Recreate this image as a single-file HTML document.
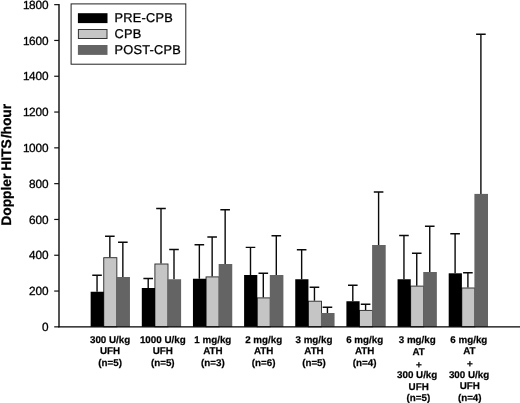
<!DOCTYPE html>
<html><head><meta charset="utf-8"><title>Doppler HITS/hour</title>
<style>
html,body{margin:0;padding:0;background:#fff;}
svg{display:block;}
text{font-family:"Liberation Sans",Arial,Helvetica,sans-serif;fill:#000;text-rendering:geometricPrecision;}
.t{font-size:11.8px;text-anchor:end;stroke:#000;stroke-width:0.3px;}
.l{font-size:9.8px;font-weight:bold;text-anchor:middle;stroke:#111;stroke-width:0.25px;}
.lg{font-size:12.8px;letter-spacing:0.2px;stroke:#000;stroke-width:0.3px;}
.yt{font-size:13.8px;font-weight:bold;text-anchor:middle;stroke:#000;stroke-width:0.3px;}
</style></head><body>
<svg width="520" height="403" viewBox="0 0 520 403">
<rect width="520" height="403" fill="#fff"/>

<path d="M97.05 291.75V275.30M92.25 275.30H101.85" stroke="#0a0a0a" stroke-width="1.4" fill="none"/>
<path d="M109.85 257.30V236.30M105.05 236.30H114.65" stroke="#0a0a0a" stroke-width="1.4" fill="none"/>
<path d="M122.85 277.00V242.30M118.05 242.30H127.65" stroke="#0a0a0a" stroke-width="1.4" fill="none"/>
<rect x="103.75" y="257.70" width="13.1" height="69.10" fill="#c5c5c5" stroke="#262626" stroke-width="0.9"/>
<rect x="90.65" y="291.75" width="13.2" height="35.05" fill="#000"/>
<rect x="116.35" y="277.00" width="13.6" height="49.80" fill="#646464"/>
<path d="M148.20 288.00V278.55M143.40 278.55H153.00" stroke="#0a0a0a" stroke-width="1.4" fill="none"/>
<path d="M161.00 263.60V208.55M156.20 208.55H165.80" stroke="#0a0a0a" stroke-width="1.4" fill="none"/>
<path d="M174.00 279.25V249.55M169.20 249.55H178.80" stroke="#0a0a0a" stroke-width="1.4" fill="none"/>
<rect x="154.90" y="264.00" width="13.1" height="62.80" fill="#c5c5c5" stroke="#262626" stroke-width="0.9"/>
<rect x="141.80" y="288.00" width="13.2" height="38.80" fill="#000"/>
<rect x="167.50" y="279.25" width="13.6" height="47.55" fill="#646464"/>
<path d="M199.35 278.75V244.80M194.55 244.80H204.15" stroke="#0a0a0a" stroke-width="1.4" fill="none"/>
<path d="M212.15 276.50V237.05M207.35 237.05H216.95" stroke="#0a0a0a" stroke-width="1.4" fill="none"/>
<path d="M225.15 264.00V209.80M220.35 209.80H229.95" stroke="#0a0a0a" stroke-width="1.4" fill="none"/>
<rect x="206.05" y="276.90" width="13.1" height="49.90" fill="#c5c5c5" stroke="#262626" stroke-width="0.9"/>
<rect x="192.95" y="278.75" width="13.2" height="48.05" fill="#000"/>
<rect x="218.65" y="264.00" width="13.6" height="62.80" fill="#646464"/>
<path d="M250.50 275.00V247.40M245.70 247.40H255.30" stroke="#0a0a0a" stroke-width="1.4" fill="none"/>
<path d="M263.30 297.50V273.30M258.50 273.30H268.10" stroke="#0a0a0a" stroke-width="1.4" fill="none"/>
<path d="M276.30 275.00V235.80M271.50 235.80H281.10" stroke="#0a0a0a" stroke-width="1.4" fill="none"/>
<rect x="257.20" y="297.90" width="13.1" height="28.90" fill="#c5c5c5" stroke="#262626" stroke-width="0.9"/>
<rect x="244.10" y="275.00" width="13.2" height="51.80" fill="#000"/>
<rect x="269.80" y="275.00" width="13.6" height="51.80" fill="#646464"/>
<path d="M301.65 279.25V249.80M296.85 249.80H306.45" stroke="#0a0a0a" stroke-width="1.4" fill="none"/>
<path d="M314.45 300.80V287.30M309.65 287.30H319.25" stroke="#0a0a0a" stroke-width="1.4" fill="none"/>
<path d="M327.45 313.00V307.30M322.65 307.30H332.25" stroke="#0a0a0a" stroke-width="1.4" fill="none"/>
<rect x="308.35" y="301.20" width="13.1" height="25.60" fill="#c5c5c5" stroke="#262626" stroke-width="0.9"/>
<rect x="295.25" y="279.25" width="13.2" height="47.55" fill="#000"/>
<rect x="320.95" y="313.00" width="13.6" height="13.80" fill="#646464"/>
<path d="M352.80 301.25V285.30M348.00 285.30H357.60" stroke="#0a0a0a" stroke-width="1.4" fill="none"/>
<path d="M365.60 310.00V304.30M360.80 304.30H370.40" stroke="#0a0a0a" stroke-width="1.4" fill="none"/>
<path d="M378.60 245.00V192.05M373.80 192.05H383.40" stroke="#0a0a0a" stroke-width="1.4" fill="none"/>
<rect x="359.50" y="310.40" width="13.1" height="16.40" fill="#c5c5c5" stroke="#262626" stroke-width="0.9"/>
<rect x="346.40" y="301.25" width="13.2" height="25.55" fill="#000"/>
<rect x="372.10" y="245.00" width="13.6" height="81.80" fill="#646464"/>
<path d="M403.95 279.25V235.50M399.15 235.50H408.75" stroke="#0a0a0a" stroke-width="1.4" fill="none"/>
<path d="M416.75 285.70V253.30M411.95 253.30H421.55" stroke="#0a0a0a" stroke-width="1.4" fill="none"/>
<path d="M429.75 272.00V226.30M424.95 226.30H434.55" stroke="#0a0a0a" stroke-width="1.4" fill="none"/>
<rect x="410.65" y="286.10" width="13.1" height="40.70" fill="#c5c5c5" stroke="#262626" stroke-width="0.9"/>
<rect x="397.55" y="279.25" width="13.2" height="47.55" fill="#000"/>
<rect x="423.25" y="272.00" width="13.6" height="54.80" fill="#646464"/>
<path d="M455.10 273.30V233.70M450.30 233.70H459.90" stroke="#0a0a0a" stroke-width="1.4" fill="none"/>
<path d="M467.90 287.60V272.70M463.10 272.70H472.70" stroke="#0a0a0a" stroke-width="1.4" fill="none"/>
<path d="M480.90 193.90V34.30M476.10 34.30H485.70" stroke="#0a0a0a" stroke-width="1.4" fill="none"/>
<rect x="461.80" y="288.00" width="13.1" height="38.80" fill="#c5c5c5" stroke="#262626" stroke-width="0.9"/>
<rect x="448.70" y="273.30" width="13.2" height="53.50" fill="#000"/>
<rect x="474.40" y="193.90" width="13.6" height="132.90" fill="#646464"/>
<path d="M59.0 4.0V327.2" stroke="#000" stroke-width="1.35" fill="none"/>
<path d="M58.3 326.9H520" stroke="#000" stroke-width="1.4" fill="none"/>
<path d="M54.2 326.85H59" stroke="#111" stroke-width="1.2"/>
<text class="t" x="48.6" y="331.00">0</text>
<path d="M54.2 291.05H59" stroke="#111" stroke-width="1.2"/>
<text class="t" x="48.6" y="295.20">200</text>
<path d="M54.2 255.25H59" stroke="#111" stroke-width="1.2"/>
<text class="t" x="48.6" y="259.40">400</text>
<path d="M54.2 219.45H59" stroke="#111" stroke-width="1.2"/>
<text class="t" x="48.6" y="223.60">600</text>
<path d="M54.2 183.65H59" stroke="#111" stroke-width="1.2"/>
<text class="t" x="48.6" y="187.80">800</text>
<path d="M54.2 147.85H59" stroke="#111" stroke-width="1.2"/>
<text class="t" x="48.6" y="152.00">1<tspan dx="-0.6">000</tspan></text>
<path d="M54.2 112.05H59" stroke="#111" stroke-width="1.2"/>
<text class="t" x="48.6" y="116.20">1<tspan dx="-0.6">200</tspan></text>
<path d="M54.2 76.25H59" stroke="#111" stroke-width="1.2"/>
<text class="t" x="48.6" y="80.40">1<tspan dx="-0.6">400</tspan></text>
<path d="M54.2 40.45H59" stroke="#111" stroke-width="1.2"/>
<text class="t" x="48.6" y="44.60">1<tspan dx="-0.6">600</tspan></text>
<path d="M54.2 4.65H59" stroke="#111" stroke-width="1.2"/>
<text class="t" x="48.6" y="8.80">1<tspan dx="-0.6">800</tspan></text>
<text class="yt" transform="translate(11.3 164.8) rotate(-90)">Doppler<tspan dx="-1.0"> HITS</tspan><tspan dx="1.0">/hour</tspan></text>
<rect x="71.1" y="3.9" width="114.7" height="60.3" fill="#fff" stroke="#222" stroke-width="1"/>
<rect x="77.9" y="13.2" width="29.6" height="9.9" fill="#000"/>
<text class="lg" x="114.6" y="22.40">PRE-CPB</text>
<rect x="78.4" y="29.5" width="28.6" height="9" fill="#c5c5c5" stroke="#333" stroke-width="1"/>
<text class="lg" x="114.6" y="38.20">CPB</text>
<rect x="77.9" y="45.0" width="29.6" height="9.9" fill="#646464"/>
<text class="lg" x="114.6" y="54.20">POST-CPB</text>
<text class="l" x="110.10" y="342.90">300 U/kg</text>
<text class="l" x="110.10" y="354.20">UFH</text>
<text class="l" x="110.10" y="365.80">(n=5)</text>
<text class="l" x="162.80" y="342.90">1000 U/kg</text>
<text class="l" x="162.80" y="354.20">UFH</text>
<text class="l" x="162.80" y="365.80">(n=5)</text>
<text class="l" x="212.85" y="342.90">1 mg/kg</text>
<text class="l" x="212.85" y="354.20">ATH</text>
<text class="l" x="212.85" y="365.80">(n=3)</text>
<text class="l" x="263.70" y="342.90">2 mg/kg</text>
<text class="l" x="263.70" y="354.20">ATH</text>
<text class="l" x="263.70" y="365.80">(n=6)</text>
<text class="l" x="314.00" y="342.90">3 mg/kg</text>
<text class="l" x="314.00" y="354.20">ATH</text>
<text class="l" x="314.00" y="365.80">(n=5)</text>
<text class="l" x="364.70" y="342.90">6 mg/kg</text>
<text class="l" x="364.70" y="354.20">ATH</text>
<text class="l" x="364.70" y="365.80">(n=4)</text>
<text class="l" x="417.25" y="343.45">3 mg/kg</text>
<text class="l" x="418.65" y="354.80">AT</text>
<text class="l" x="418.80" y="367.55">+</text>
<text class="l" x="417.15" y="378.30">300 U/kg</text>
<text class="l" x="418.65" y="389.60">UFH</text>
<text class="l" x="418.45" y="401.30">(n=5)</text>
<text class="l" x="468.85" y="342.95">6 mg/kg</text>
<text class="l" x="469.45" y="354.20">AT</text>
<text class="l" x="469.85" y="366.80">+</text>
<text class="l" x="469.05" y="377.90">300 U/kg</text>
<text class="l" x="469.85" y="389.05">UFH</text>
<text class="l" x="469.75" y="400.80">(n=4)</text>
</svg></body></html>
